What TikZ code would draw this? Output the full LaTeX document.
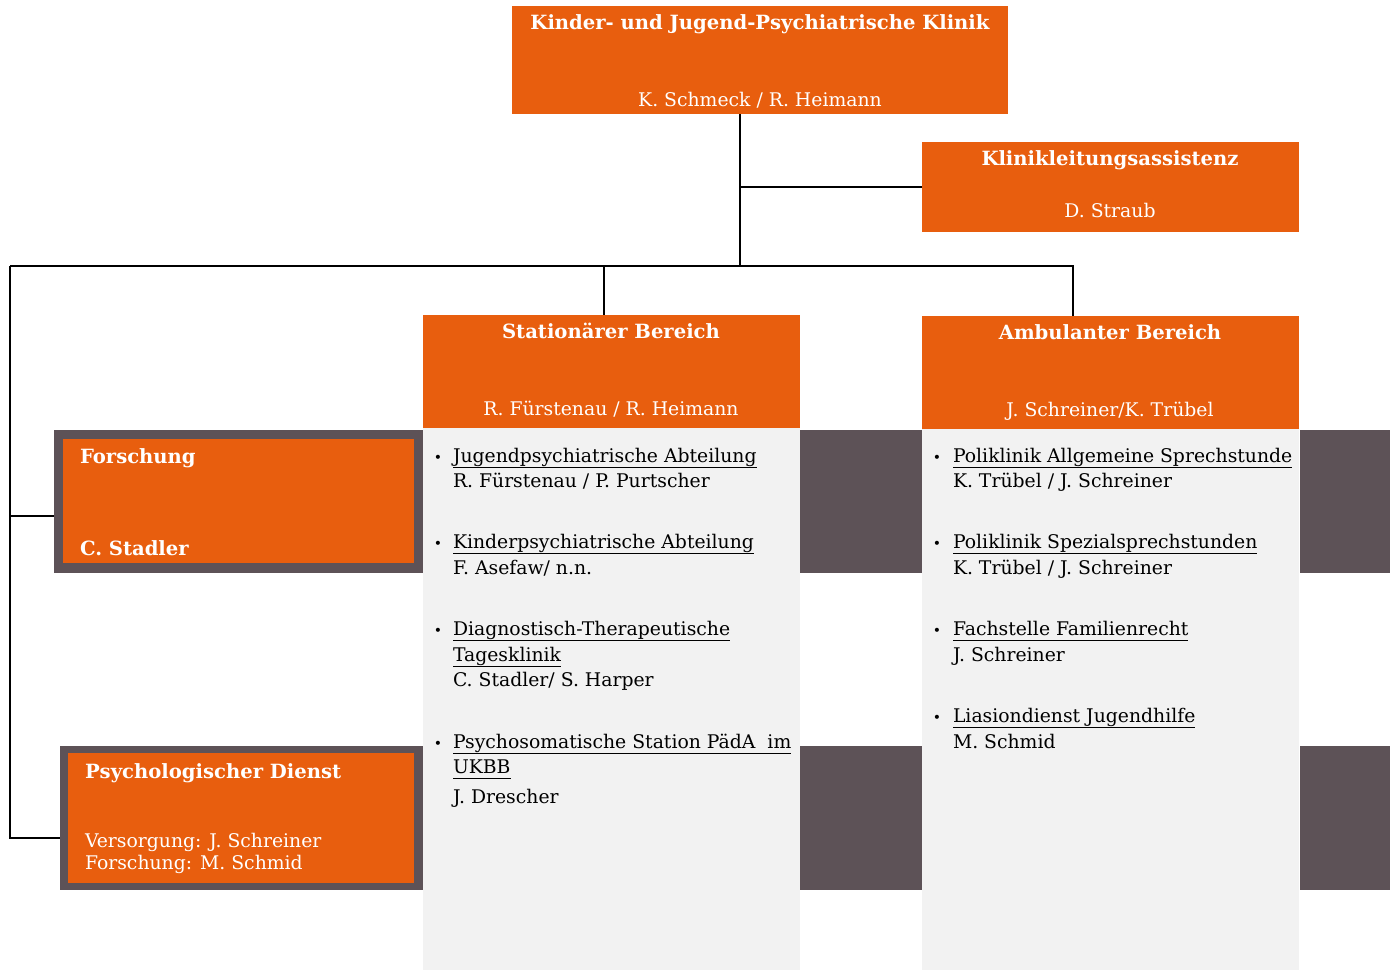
\documentclass[tikz,border=0pt]{standalone}
\usepackage{fontspec}
\setmainfont{DejaVu Serif}
\definecolor{org}{RGB}{232,94,14}
\definecolor{dgray}{RGB}{93,82,87}
\definecolor{lgray}{RGB}{242,242,242}
\newcommand\ulx[1]{\underline{\vphantom{g}#1}}
\begin{document}
\begin{tikzpicture}[x=1pt,y=-1pt,
  box/.style={draw=none,inner sep=0pt,outer sep=0pt,anchor=north west},
  obox/.style={box,fill=org},
  gbox/.style={box,fill=dgray},
  pbox/.style={box,fill=lgray},
  wt/.style={inner sep=0pt,outer sep=0pt,text=white,font=\fontsize{18.8}{22}\selectfont},
  wtb/.style={wt,font=\fontsize{19.6}{22}\selectfont\bfseries},
  bt/.style={inner sep=0pt,outer sep=0pt,text=black,font=\fontsize{18.8}{22}\selectfont,anchor=base west},
  bul/.style={inner sep=0pt,outer sep=0pt,text=black,font=\fontsize{14}{16}\selectfont,anchor=base},
  conn/.style={draw=black,line width=1.8pt}
]
\useasboundingbox[fill=white] (0,0) rectangle (1390,970);

% panels and blocks
\node[pbox,minimum width=377pt,minimum height=542pt] (statP) at (423,428) {};
\node[pbox,minimum width=377pt,minimum height=541pt] (ambP) at (922,429) {};
\node[gbox,minimum width=122pt,minimum height=143pt] (g1) at (800,430) {};
\node[gbox,minimum width=122pt,minimum height=144pt] (g2) at (800,746) {};
\node[gbox,minimum width=90pt,minimum height=143pt] (g3) at (1300,430) {};
\node[gbox,minimum width=90pt,minimum height=144pt] (g4) at (1300,746) {};

% orange boxes
\node[obox,minimum width=496pt,minimum height=108pt] (top) at (512,6) {};
\node[obox,minimum width=377pt,minimum height=90pt] (assist) at (922,142) {};
\node[obox,minimum width=377pt,minimum height=113pt] (stat) at (423,315) {};
\node[obox,minimum width=377pt,minimum height=113pt] (amb) at (922,316) {};
\node[gbox,minimum width=369pt,minimum height=143pt] (forschO) at (54,430) {};
\node[obox,minimum width=351pt,minimum height=124pt] (forsch) at (63,439) {};
\node[gbox,minimum width=363pt,minimum height=144pt] (psychO) at (60,746) {};
\node[obox,minimum width=346pt,minimum height=130pt] (psych) at (68,753) {};

% header texts
\node[wtb,anchor=base] (topT) at (760,29) {Kinder- und Jugend-Psychiatrische Klinik};
\node[wt,anchor=base] (topN) at (760,106) {K. Schmeck / R. Heimann};
\node[wtb,anchor=base] (assistT) at (1110,165) {Klinikleitungsassistenz};
\node[wt,anchor=base] (assistN) at (1110,217) {D. Straub};
\node[wtb,anchor=base] (statT) at (611,338) {Stationärer Bereich};
\node[wt,anchor=base] (statN) at (611,415) {R. Fürstenau / R. Heimann};
\node[wtb,anchor=base] (ambT) at (1110,339) {Ambulanter Bereich};
\node[wt,anchor=base] (ambN) at (1110,416) {J. Schreiner/K. Trübel};
\node[wtb,anchor=base west] (forschT) at (80,463) {Forschung};
\node[wtb,anchor=base west] (forschN) at (80,555) {C. Stadler};
\node[wtb,anchor=base west] (psychT) at (85,778) {Psychologischer Dienst};
\node[wt,anchor=base west] (psychN1) at (85,847) {Versorgung: J. Schreiner};
\node[wt,anchor=base west] (psychN2) at (85,869) {Forschung: M. Schmid};

% Stationaer list
\node[bul] (sb1) at (438,462) {•};
\node[bt] (s1a) at (453,462) {\ulx{Jugendpsychiatrische Abteilung}};
\node[bt] (s1b) at (453,487) {R. Fürstenau / P. Purtscher};
\node[bul] (sb2) at (438,548) {•};
\node[bt] (s2a) at (453,548) {\ulx{Kinderpsychiatrische Abteilung}};
\node[bt] (s2b) at (453,574) {F. Asefaw/ n.n.};
\node[bul] (sb3) at (438,635) {•};
\node[bt] (s3a) at (453,635) {\ulx{Diagnostisch-Therapeutische}};
\node[bt] (s3b) at (453,661) {\ulx{Tagesklinik}};
\node[bt] (s3c) at (453,686) {C. Stadler/ S. Harper};
\node[bul] (sb4) at (438,748) {•};
\node[bt] (s4a) at (453,748) {\ulx{Psychosomatische Station PädA\ \ im}};
\node[bt] (s4b) at (453,773) {\ulx{UKBB}};
\node[bt] (s4c) at (453,803) {J. Drescher};

% Ambulant list
\node[bul] (ab1) at (937,462) {•};
\node[bt] (a1a) at (953,462) {\ulx{Poliklinik Allgemeine Sprechstunde}};
\node[bt] (a1b) at (953,487) {K. Trübel / J. Schreiner};
\node[bul] (ab2) at (937,548) {•};
\node[bt] (a2a) at (953,548) {\ulx{Poliklinik Spezialsprechstunden}};
\node[bt] (a2b) at (953,574) {K. Trübel / J. Schreiner};
\node[bul] (ab3) at (937,635) {•};
\node[bt] (a3a) at (953,635) {\ulx{Fachstelle Familienrecht}};
\node[bt] (a3b) at (953,661) {J. Schreiner};
\node[bul] (ab4) at (937,722) {•};
\node[bt] (a4a) at (953,722) {\ulx{Liasiondienst Jugendhilfe}};
\node[bt] (a4b) at (953,748) {M. Schmid};

% connectors
\coordinate (jtop) at (740,266);
\coordinate (busL) at (10,266);
\coordinate (busR) at (1073,266);
\coordinate (jstat) at (604,266);
\coordinate (jf) at (10,516);
\coordinate (jp) at (10,838);
\draw[conn] (top.south -| jtop) -- (jtop);
\draw[conn] (assist.west) -- (assist.west -| jtop);
\draw[conn] (busL) -- (busR) -- (amb.north -| busR);
\draw[conn] (jstat) -- (stat.north -| jstat);
\draw[conn] (busL) -- (jp) -- (jp -| psychO.west);
\draw[conn] (jf) -- (jf -| forschO.west);
\end{tikzpicture}
\end{document}
